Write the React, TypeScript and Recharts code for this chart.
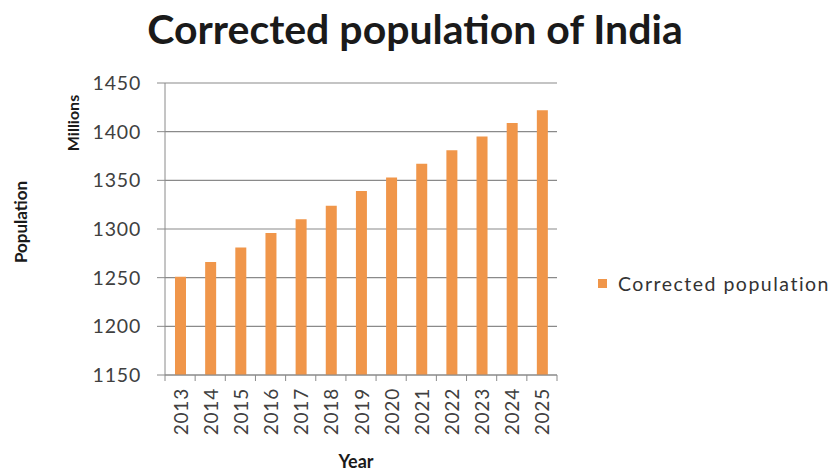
import { Bar, BarChart, CartesianGrid, XAxis, YAxis } from 'recharts';

const years = ['2013', '2014', '2015', '2016', '2017', '2018', '2019', '2020', '2021', '2022', '2023', '2024', '2025'];
const population = [1251, 1266, 1281, 1296, 1310, 1324, 1339, 1353, 1367, 1381, 1395, 1409, 1422];
const yTicks = [1150, 1200, 1250, 1300, 1350, 1400, 1450];

const data = years.map((year, i) => ({ year, population: population[i] }));

const W = 831;
const H = 472;
const X_AXIS_H = 60;
const Y_AXIS_W = 80;
const margin = { top: 83, right: 274, bottom: 97 - X_AXIS_H, left: 85 };
const PLOT_W = W - margin.left - Y_AXIS_W - margin.right;
const STEP = PLOT_W / years.length;

const AXIS = '#8a8a8a';
const TEXT = '#404040';
const DARK = '#1a1a1a';
const ORANGE = '#F0964A';
const FONT = 'Lato, "Open Sans", sans-serif';

function YearTick({ x, y, payload, index }: any) {
  return (
    <g>
      <line x1={x - STEP / 2} x2={x - STEP / 2} y1={y - 8} y2={y - 2} stroke={AXIS} />
      {index === years.length - 1 && (
        <line x1={x + STEP / 2} x2={x + STEP / 2} y1={y - 8} y2={y - 2} stroke={AXIS} />
      )}
      <text
        x={x}
        y={y + 5}
        transform={`rotate(-90, ${x}, ${y + 5})`}
        textAnchor="end"
        dominantBaseline="central"
        fontSize={19}
        letterSpacing={0.8}
        fill={TEXT}
        fontFamily={FONT}
      >
        {payload.value}
      </text>
    </g>
  );
}

export default function App() {
  return (
    <div style={{ position: 'absolute', left: 0, top: 0, width: W, height: H, background: '#fff', fontFamily: FONT }}>
      <div style={{ position: 'absolute', left: 0, top: 8, width: 830, textAlign: 'center', fontSize: 41, lineHeight: 1, fontWeight: 700, color: DARK }}>
        Corrected population of India
      </div>
      <div style={{ position: 'absolute', left: 72, top: 123, transform: 'translate(-50%, -50%) rotate(-90deg)', fontSize: 16, fontWeight: 700, color: DARK, whiteSpace: 'nowrap' }}>
        Millions
      </div>
      <div style={{ position: 'absolute', left: 20, top: 222, transform: 'translate(-50%, -50%) rotate(-90deg)', fontSize: 17, fontWeight: 700, color: DARK, whiteSpace: 'nowrap' }}>
        Population
      </div>
      <div style={{ position: 'absolute', left: 0, top: 450, width: 712, textAlign: 'center', fontSize: 18, fontWeight: 700, color: DARK }}>
        Year
      </div>
      <div style={{ position: 'absolute', left: 598, top: 271, height: 24, display: 'flex', alignItems: 'center', fontSize: 19.5, letterSpacing: 1.5, color: '#333' }}>
        <span style={{ display: 'inline-block', width: 9, height: 9, background: ORANGE, marginRight: 11 }} />
        Corrected population
      </div>
      <BarChart width={W} height={H} data={data} margin={margin} barSize={11}>
        <CartesianGrid vertical={false} stroke={AXIS} strokeWidth={1.2} />
        <XAxis
          dataKey="year"
          stroke={AXIS}
          tickLine={false}
          tick={<YearTick />}
          interval={0}
          height={X_AXIS_H}
        />
        <YAxis
          width={Y_AXIS_W}
          domain={[1150, 1450]}
          ticks={yTicks}
          stroke={AXIS}
          tickSize={8}
          tickMargin={16}
          tick={{ fill: TEXT, fontSize: 19.5, fontFamily: FONT, letterSpacing: 0.8 }}
        />
        <Bar dataKey="population" fill={ORANGE} isAnimationActive={false} />
      </BarChart>
    </div>
  );
}
